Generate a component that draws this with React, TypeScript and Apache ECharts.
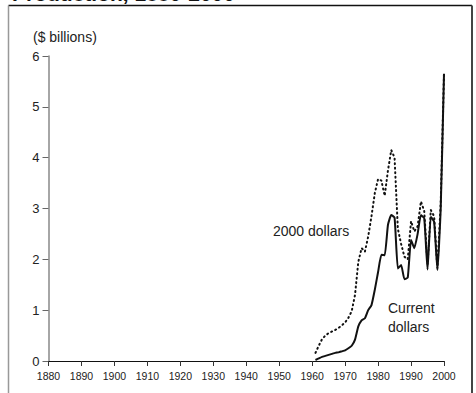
import React, { useEffect, useRef } from "react";
import * as echarts from "echarts";

const years: number[] = [
  1961, 1962, 1963, 1964, 1965, 1966, 1967, 1968, 1969, 1970,
  1971, 1972, 1973, 1974, 1975, 1976, 1977, 1978, 1979, 1980,
  1981, 1982, 1983, 1984, 1985, 1986, 1987, 1988, 1989, 1990,
  1991, 1992, 1993, 1994, 1995, 1996, 1997, 1998, 1999, 2000,
];

const currentDollars: number[] = [
  0.02, 0.05, 0.08, 0.1, 0.12, 0.14, 0.16, 0.17, 0.19, 0.21,
  0.25, 0.3, 0.42, 0.68, 0.8, 0.84, 1.0, 1.1, 1.4, 1.75,
  2.09, 2.08, 2.68, 2.87, 2.82, 1.82, 1.89, 1.61, 1.64, 2.38,
  2.22, 2.5, 2.87, 2.81, 1.8, 2.84, 2.74, 1.79, 3.0, 5.65,
];

const constantDollars: number[] = [
  0.16, 0.3, 0.43, 0.5, 0.55, 0.58, 0.61, 0.65, 0.7, 0.76,
  0.85, 0.98, 1.3, 1.95, 2.22, 2.15, 2.45, 2.85, 3.3, 3.58,
  3.55, 3.25, 3.75, 4.15, 4.0, 2.6, 2.3, 2.05, 2.0, 2.75,
  2.55, 2.65, 3.14, 2.95, 1.9, 2.97, 2.85, 1.82, 3.1, 5.65,
];

const xTicks = { min: 1880, max: 2000, step: 10 };
const yTicks = { min: 0, max: 6, step: 1 };

const titleText = "Production, 1880-2000";
const unitLabel = "($ billions)";
const constLabel = "2000 dollars";
const currentLabel = "Current\ndollars";

export default function App() {
  const ref = useRef<HTMLDivElement>(null);
  useEffect(() => {
    if (!ref.current) return;
    const chart = echarts.init(ref.current, undefined, { renderer: "svg" });
    const cur = years.map((y, i) => [y, currentDollars[i]]);
    const con = years.map((y, i) => [y, constantDollars[i]]);
    const font = "Liberation Sans, Arial, Helvetica, sans-serif";
    chart.setOption({
      animation: false,
      textStyle: { fontFamily: font },
      grid: { left: 48.5, right: 32, top: 56, bottom: 32, containLabel: false },
      xAxis: {
        type: "value",
        min: xTicks.min,
        max: xTicks.max,
        interval: xTicks.step,
        axisLine: { show: true, lineStyle: { color: "#111", width: 1.2 } },
        axisTick: { show: true, length: 5, lineStyle: { color: "#333" } },
        axisLabel: { color: "#222", fontSize: 10.5, margin: 9, formatter: (v: number) => String(v) },
        splitLine: { show: false },
      },
      yAxis: {
        type: "value",
        min: yTicks.min,
        max: yTicks.max,
        interval: yTicks.step,
        axisLine: { show: true, lineStyle: { color: "#888", width: 1.5 } },
        axisTick: { show: true, length: 6, lineStyle: { color: "#666" } },
        axisLabel: { color: "#222", fontSize: 13, margin: 9 },
        splitLine: { show: false },
      },
      series: [
        {
          type: "line",
          data: con,
          showSymbol: false,
          symbol: "none",
          lineStyle: { color: "#111", width: 2, type: [1, 3.5], cap: "round" },
          z: 2,
        },
        {
          type: "line",
          data: cur,
          showSymbol: false,
          symbol: "none",
          smooth: 0.15,
          lineStyle: { color: "#111", width: 2 },
          z: 3,
        },
      ],
      graphic: [
        { type: "line", shape: { x1: 8.5, y1: 5.5, x2: 472, y2: 5.5 }, style: { stroke: "#111", lineWidth: 1.5 } },
        { type: "line", shape: { x1: 8.5, y1: 5.5, x2: 8.5, y2: 393 }, style: { stroke: "#999", lineWidth: 1.5 } },
        { type: "line", shape: { x1: 472, y1: 5.5, x2: 472, y2: 393 }, style: { stroke: "#444", lineWidth: 2 } },
        {
          type: "text",
          x: 12,
          y: -6.3,
          style: { text: titleText, font: `bold 21px ${font}`, fill: "#111", verticalAlign: "middle" },
        },
        {
          type: "text",
          x: 33,
          y: 36.7,
          style: { text: unitLabel, font: `14px ${font}`, fill: "#222", verticalAlign: "middle" },
        },
        {
          type: "text",
          x: 273,
          y: 230.5,
          style: { text: constLabel, font: `14px ${font}`, fill: "#222", verticalAlign: "middle" },
        },
        {
          type: "text",
          x: 388,
          y: 298,
          style: { text: currentLabel, font: `14px ${font}`, fill: "#222", verticalAlign: "top", lineHeight: 19 },
        },
      ],
    });
    return () => chart.dispose();
  }, []);
  return (
    <div
      ref={ref}
      style={{ position: "fixed", left: 0, top: 0, width: 476, height: 393, background: "#fff" }}
    />
  );
}
